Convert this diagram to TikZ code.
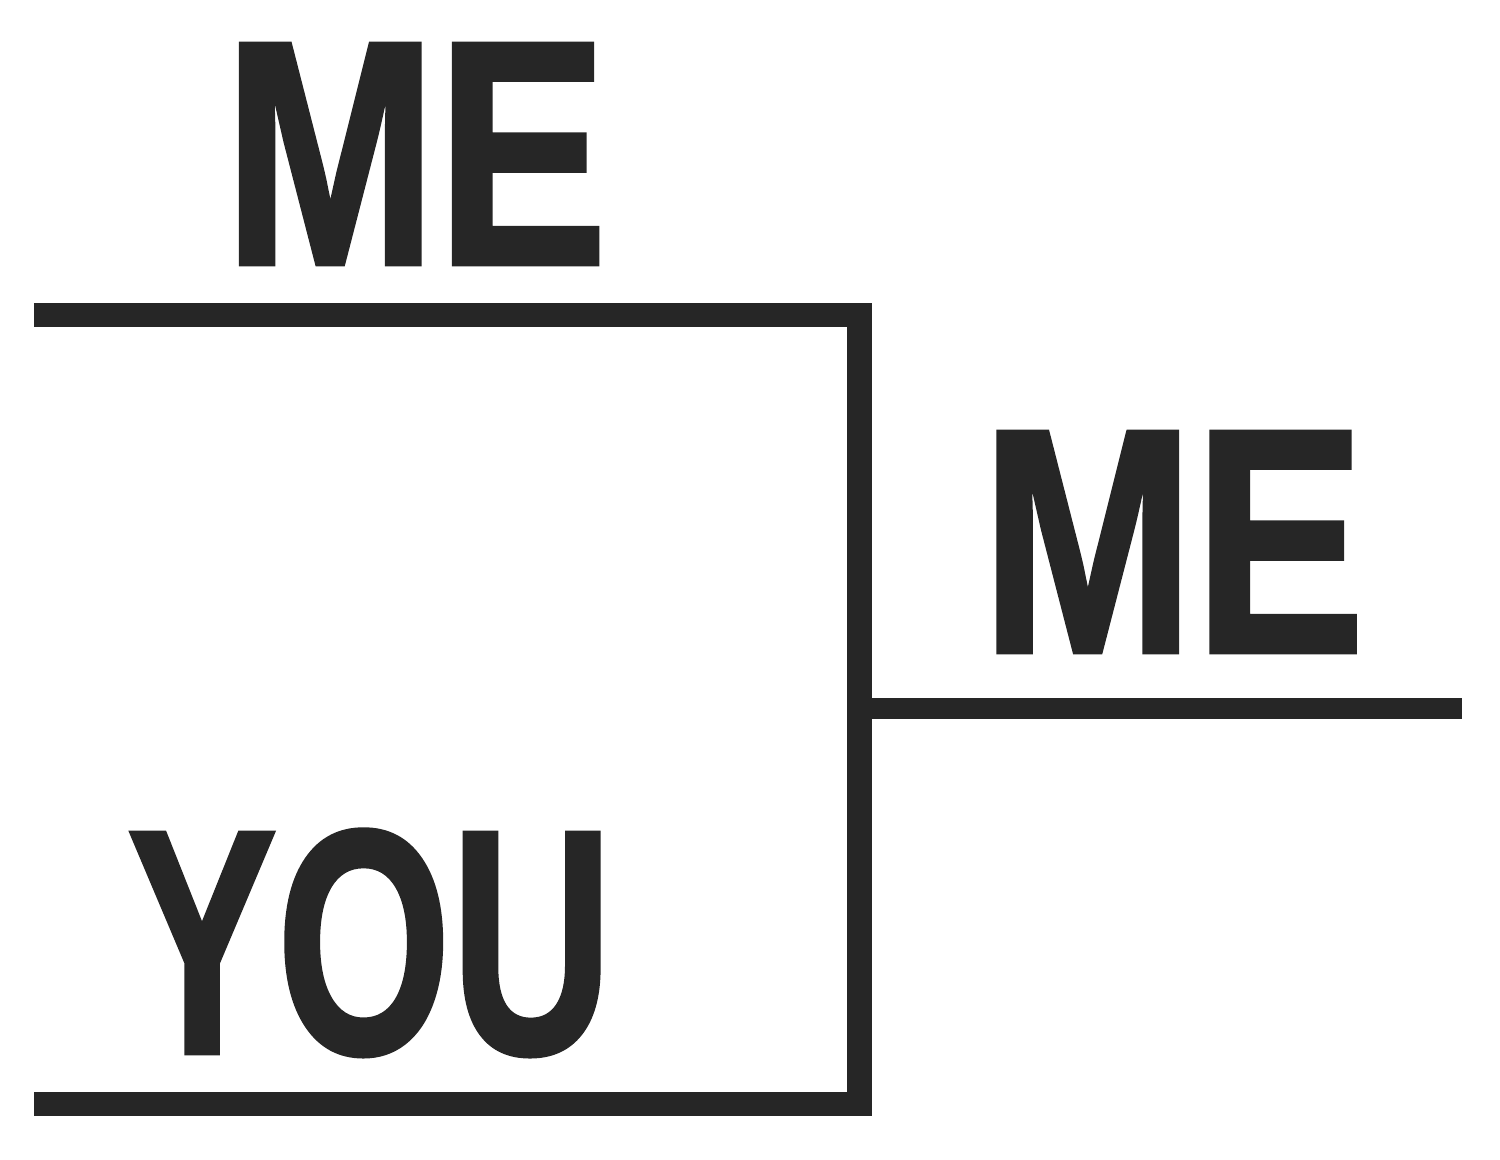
\documentclass[tikz,border=0pt]{standalone}
\usepackage{fontspec}
\newfontfamily\brushfont[BoldFeatures={FakeBold=1.5}]{Liberation Sans}
\definecolor{ink}{HTML}{262626}
\tikzset{
  bar/.style={line width=0.245cm, draw=ink, line join=miter},
  word/.style={inner sep=0pt, anchor=base, text=ink,
    font=\brushfont\bfseries\fontsize{91}{95}\selectfont}
}

\begin{document}
\begin{tikzpicture}
			%%%%% START %%%%%
			\useasboundingbox (0, 0) rectangle (15, 11.59);
			
			\coordinate (topL) at (0.34, 8.44);
			\coordinate (topR) at (8.594, 8.44);
			\coordinate (botR) at (8.594, 0.55);
			\coordinate (botL) at (0.34, 0.55);
			\coordinate (winL) at (8.717, 4.505);
			\coordinate (winR) at (14.62, 4.505);
			
			\draw[bar] (topL) -- (topR) -- (botR) -- (botL);
			\draw[bar, line width=0.21cm] (winL) -- (winR);
			
			\node[word] (me) at (4.155, 8.95) {\scalebox{0.8}[1]{ME}};
			\node[word] (you) at (3.7, 1.06) {\scalebox{0.7}[1]{YOU}};
			\node[word] (winner) at (11.73, 5.07) {\scalebox{0.8}[1]{ME}};
			
			%%%%% END %%%%%
\end{tikzpicture}
\end{document}
